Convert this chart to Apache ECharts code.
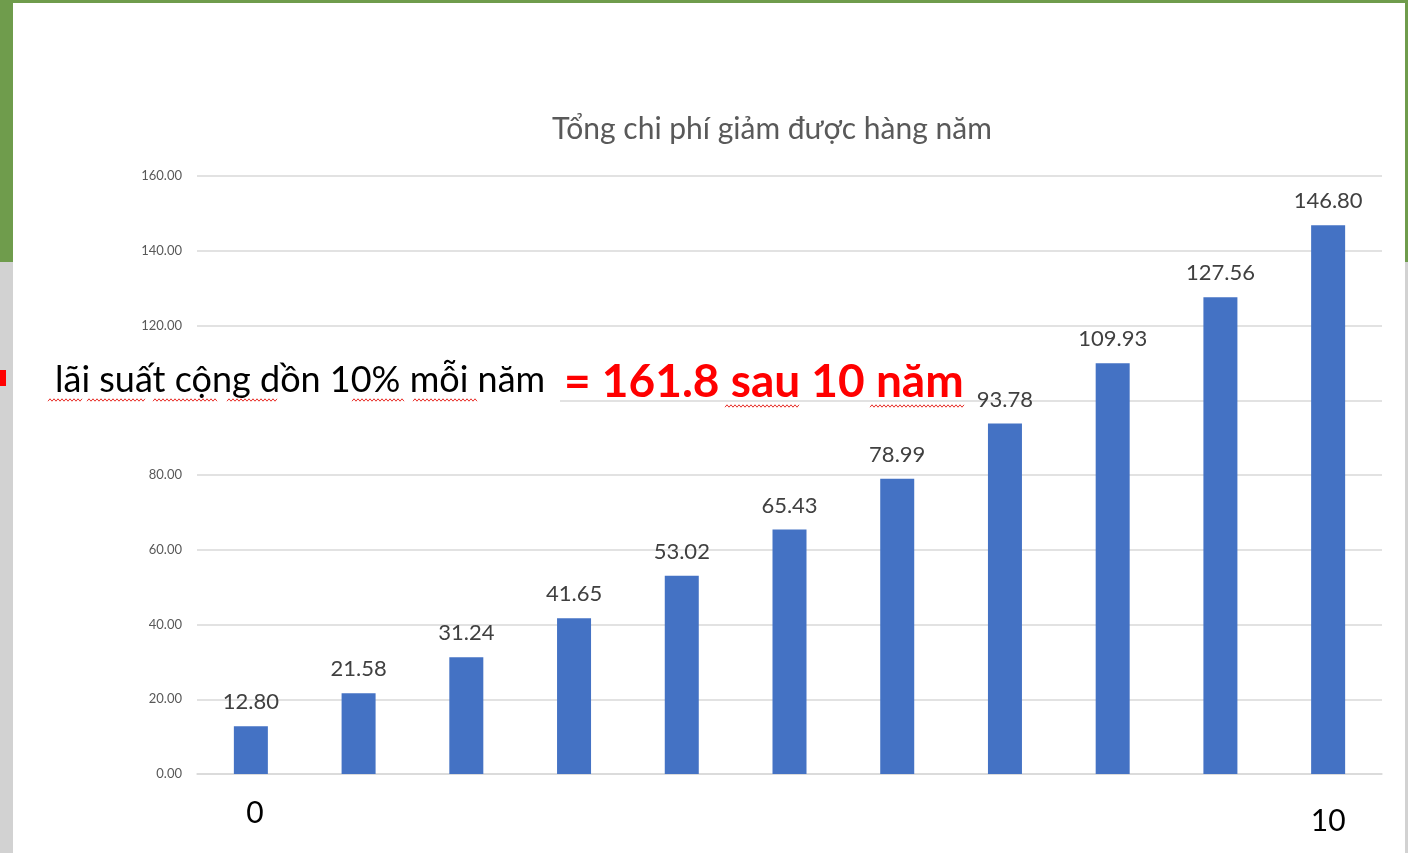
<!DOCTYPE html>
<html>
<head>
    <meta charset="utf-8">
    <script src="https://cdn.jsdelivr.net/npm/echarts@6/dist/echarts.min.js"></script>
    <style>
        html, body { margin: 0; padding: 0; background: #fff; }
    </style>
</head>
<body>
    <div id="main" style="width: 1408px;height:853px;"></div>
    <script type="text/javascript">

    // du lieu
    var years = ['0', '1', '2', '3', '4', '5', '6', '7', '8', '9', '10'];
    var savings = [12.80, 21.58, 31.24, 41.65, 53.02, 65.43, 78.99, 93.78, 109.93, 127.56, 146.80];
    var yTicks = {min: 0, max: 160, step: 20};
    var shownYears = ['0', '10'];

    var chartTitle = 'Tổng chi phí giảm được hàng năm';
    var noteText = 'lãi suất cộng dồn 10% mỗi năm';
    var resultText = '= 161.8 sau 10 năm';

    var font = 'Lato, "Open Sans", sans-serif';
    var green = '#6f9c4c';
    var grey = '#d2d2d2';

    // gach song do kieu kiem tra chinh ta
    function squiggle(x0, x1, y) {
        var pts = [];
        for (var x = x0, i = 0; x <= x1; x += 2, i++) {
            pts.push([x, y + (i % 2 ? -1.2 : 1.2)]);
        }
        return {
            type: 'polyline', z: 61, silent: true,
            shape: {points: pts},
            style: {stroke: '#e8302a', lineWidth: 1, fill: null}
        };
    }

    var myChart = echarts.init(document.getElementById('main'));

    var deco = [
        {type: 'rect', shape: {x: 0, y: 0, width: 1408, height: 3}, style: {fill: green}, z: 100},
        {type: 'rect', shape: {x: 0, y: 0, width: 13, height: 262}, style: {fill: green}, z: 100},
        {type: 'rect', shape: {x: 0, y: 262, width: 13, height: 591}, style: {fill: grey}, z: 100},
        {type: 'rect', shape: {x: 1405, y: 0, width: 3, height: 262}, style: {fill: green}, z: 100},
        {type: 'rect', shape: {x: 1405, y: 262, width: 3, height: 591}, style: {fill: grey}, z: 100},
        {type: 'rect', shape: {x: 0, y: 370, width: 6, height: 16}, style: {fill: '#ff0000'}, z: 101},
        // o chu thich
        {type: 'rect', shape: {x: 13, y: 333, width: 547, height: 82}, style: {fill: '#fff'}, z: 50},
        {
            type: 'text', left: 55, top: 362, z: 60,
            style: {text: noteText, fontFamily: font, fontSize: 36, fill: '#000'}
        },
        {
            type: 'text', left: 564, top: 359, z: 60,
            style: {text: resultText, fontFamily: font, fontSize: 46, fontWeight: 'bold', fill: '#ff0000'}
        },
        squiggle(48, 82, 400),
        squiggle(87, 145, 400),
        squiggle(153, 217, 400),
        squiggle(227, 278, 400),
        squiggle(352, 405, 400),
        squiggle(413, 477, 400),
        squiggle(725, 800, 406),
        squiggle(870, 965, 406)
    ];

    myChart.setOption({
        backgroundColor: '#fff',
        title: {
            text: chartTitle,
            left: 547,
            top: 109,
            textStyle: {
                fontFamily: font,
                fontSize: 30,
                fontWeight: 'normal',
                color: '#595959'
            }
        },
        grid: {
            left: 197,
            right: 26,
            top: 176,
            bottom: 79
        },
        xAxis: {
            type: 'category',
            data: years,
            axisLine: {lineStyle: {color: '#d9d9d9', width: 1.5}},
            axisTick: {show: false},
            axisLabel: {
                interval: 0,
                margin: 24,
                formatter: function (v) {
                    if (shownYears.indexOf(v) < 0) return '';
                    return v === '10' ? '{b|' + v + '}' : '{a|' + v + '}';
                },
                rich: {
                    a: {fontFamily: font, fontSize: 30, color: '#000', padding: [0, 0, 0, 8]},
                    b: {fontFamily: font, fontSize: 30, color: '#000', padding: [8, 0, 0, 0]}
                }
            }
        },
        yAxis: {
            type: 'value',
            min: yTicks.min,
            max: yTicks.max,
            interval: yTicks.step,
            axisLine: {show: false},
            axisTick: {show: false},
            splitLine: {lineStyle: {color: '#d9d9d9', width: 1.5}},
            axisLabel: {
                margin: 15,
                fontFamily: font,
                fontSize: 13,
                color: '#595959',
                formatter: function (v) { return v.toFixed(2); }
            }
        },
        series: [
            {
                type: 'bar',
                data: savings,
                barWidth: 34,
                itemStyle: {color: '#4472c4'},
                label: {
                    show: true,
                    position: 'top',
                    distance: 13,
                    fontFamily: font,
                    fontSize: 22,
                    color: '#404040',
                    formatter: function (p) { return p.value.toFixed(2); }
                }
            }
        ],
        graphic: deco
    });
    </script>
</body>
</html>
